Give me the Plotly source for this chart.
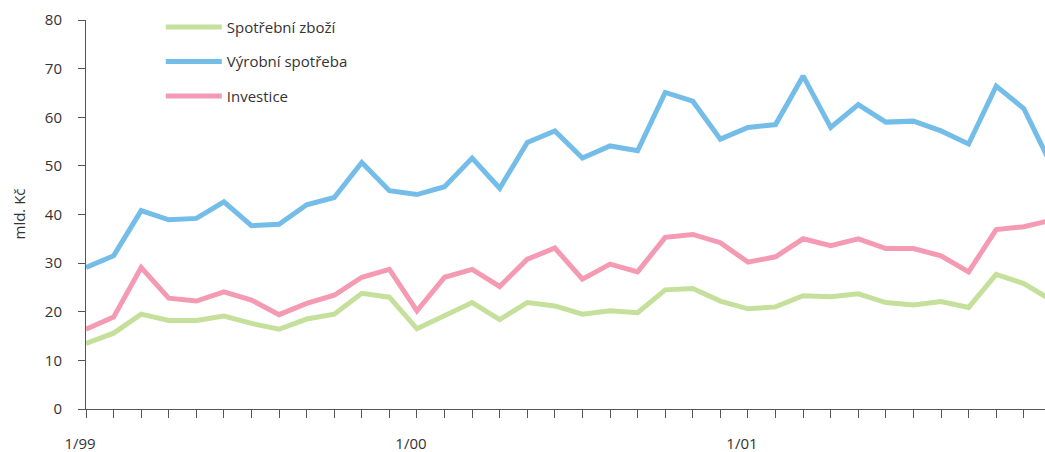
import plotly.graph_objects as go

months = list(range(36))
tick_labels = {0: "1/99", 12: "1/00", 24: "1/01"}

spotrebni_zbozi = [13.5, 15.6, 19.5, 18.2, 18.2, 19.1, 17.6, 16.4, 18.5, 19.5,
                   23.8, 23.0, 16.5, 19.1, 21.9, 18.4, 21.9, 21.2, 19.5, 20.2,
                   19.8, 24.5, 24.8, 22.2, 20.6, 21.0, 23.3, 23.1, 23.7, 21.9,
                   21.4, 22.1, 20.9, 27.7, 25.8, 22.4]
vyrobni_spotreba = [29.1, 31.5, 40.8, 38.9, 39.2, 42.6, 37.7, 38.0, 42.0, 43.5,
                    50.7, 44.9, 44.1, 45.7, 51.6, 45.4, 54.8, 57.2, 51.6, 54.1,
                    53.1, 65.1, 63.3, 55.5, 57.9, 58.5, 68.5, 57.9, 62.6, 59.0,
                    59.2, 57.2, 54.5, 66.4, 61.8, 50.2]
investice = [16.4, 18.9, 29.1, 22.8, 22.2, 24.1, 22.4, 19.4, 21.7, 23.4,
             27.1, 28.7, 20.2, 27.1, 28.7, 25.2, 30.8, 33.1, 26.7, 29.8,
             28.2, 35.3, 35.9, 34.2, 30.2, 31.3, 35.0, 33.6, 35.0, 33.0,
             33.0, 31.5, 28.2, 36.9, 37.5, 38.8]

series = [
    ("Spotřební zboží", spotrebni_zbozi, "#c5e09b"),
    ("Výrobní spotřeba", vyrobni_spotreba, "#74bde8"),
    ("Investice", investice, "#f49ab3"),
]

FONT = "Open Sans"
TXT = "#333333"
AX = "#555555"

fig = go.Figure()
for i, (name, vals, col) in enumerate(series):
    fig.add_trace(go.Scatter(
        x=months, y=vals, mode="lines", name=name,
        line=dict(color=col, width=5),
        legendgroup=f"g{i}",
    ))

fig.update_layout(
    width=1045, height=452,
    margin=dict(l=86, r=0, t=20, b=43),
    paper_bgcolor="white", plot_bgcolor="white",
    font=dict(family=FONT, size=15, color=TXT),
    showlegend=True,
    legend=dict(
        x=0.078, y=1.024, xanchor="left", yanchor="top",
        bgcolor="rgba(0,0,0,0)", tracegroupgap=12,
        font=dict(family=FONT, size=15, color=TXT),
        itemwidth=56,
    ),
    xaxis=dict(
        range=[0, 34.77], showgrid=False, zeroline=False, automargin=False,
        showline=True, linecolor=AX, linewidth=1,
        tickmode="array", tickvals=months[:35],
        ticktext=[tick_labels.get(m, "") for m in months[:35]],
        ticks="outside", ticklen=8, tickcolor=AX, tickwidth=1,
        ticklabelstandoff=13, ticklabelshift=-6,
        tickfont=dict(family=FONT, size=15, color=TXT),
    ),
    yaxis=dict(
        range=[0, 80], dtick=10, tick0=0, showgrid=False, zeroline=False,
        automargin=False,
        showline=True, linecolor=AX, linewidth=1,
        ticks="outside", ticklen=7, tickcolor=AX, tickwidth=1,
        ticklabelstandoff=13,
        tickfont=dict(family=FONT, size=15, color=TXT),
    ),
    annotations=[dict(
        text="mld. Kč", textangle=-90, xref="paper", yref="paper",
        x=(18 - 86) / 959, y=0.5, xanchor="center", yanchor="middle",
        showarrow=False, font=dict(family=FONT, size=15, color=TXT),
    )],
)

fig.write_html("out.html", config={"displayModeBar": False},
               post_script="document.body.style.margin='0';")
